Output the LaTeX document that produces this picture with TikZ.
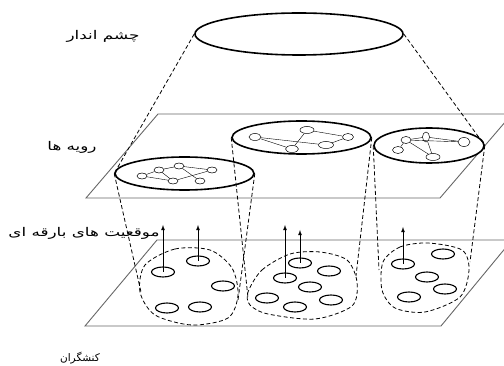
\documentclass[tikz,border=0pt]{standalone}
\usepackage{fontspec}
\newfontfamily\farsi[Script=Arabic, FakeStretch=1.4]{DejaVu Sans}
\newfontfamily\farsinarrow[Script=Arabic]{DejaVu Sans}
\TeXXeTstate=1
\usetikzlibrary{arrows,shapes.geometric}

\tikzset{
    plane/.style={draw=black!60, line width=0.9pt},
    layer/.style={draw, ellipse, fill=white, line width=1.6pt, inner sep=0pt},
    vertex/.style={draw, ellipse, fill=white, line width=0.5pt, inner sep=0pt, minimum width=10pt, minimum height=6pt},
    actor/.style={draw, ellipse, line width=1.1pt, inner sep=0pt, minimum width=23pt, minimum height=10pt},
    proj/.style={dash pattern=on 4pt off 2.5pt, line width=0.8pt},
    caption/.style={font=\farsi\fontsize{12}{14}\selectfont, inner sep=0pt}
}

\begin{document}
\begin{tikzpicture}[x=1pt, y=-1pt]
                    \useasboundingbox (0,0) rectangle (504,366);
                    \draw[plane] (86,198) -- (158,114) -- (512,114) -- (440,198) -- cycle;
                    \draw[plane] (85,326) -- (157,240) -- (512,240) -- (441,326) -- cycle;
                    \node[layer, minimum width=208pt, minimum height=42pt] (eye) at (299,34) {};
                    \node[layer, minimum width=139pt, minimum height=33pt] (p1) at (184.5,173.5) {};
                    \node[layer, minimum width=139pt, minimum height=33pt] (p2) at (301.5,137.5) {};
                    \node[layer, minimum width=110pt, minimum height=35pt] (p3) at (429,145.5) {};
                    \foreach \n/\p in {a/{(142,176)}, b/{(159,170)}, c/{(179,166)}, d/{(212,170)}, e/{(173,181)}, f/{(200,181)}}
                    \node[vertex] (g1\n) at \p {};
                    \foreach \u/\v in {a/b, a/e, b/c, c/d, b/e, c/f, e/d}
                    \draw[thin] (g1\u) -- (g1\v);
                    \foreach \n/\p/\w in {a/{(255,137)}/12, b/{(307,130)}/14, c/{(348,137)}/11, d/{(292,149)}/13, e/{(326,145)}/15}
                    \node[vertex, minimum width=\w pt, minimum height=7pt] (g2\n) at \p {};
                    \foreach \u/\v in {a/d, a/e, b/d, b/c, e/c}
                    \draw[thin] (g2\u) -- (g2\v);
                    \foreach \n/\p/\w/\h in {a/{(406,140)}/10/7, b/{(426,137)}/7/10, c/{(464,142)}/12/9, d/{(398,150)}/11/7, e/{(433,157)}/14/7}
                    \node[vertex, minimum width=\w pt, minimum height=\h pt] (g3\n) at \p {};
                    \foreach \u/\v in {a/b, b/c, a/c, a/d, a/e, b/e}
                    \draw[thin] (g3\u) -- (g3\v);
                    \draw[proj] (eye.west) -- (p1.west);
                    \draw[proj] (eye.east) -- (p3.east);
                    \draw[proj] plot[smooth cycle] coordinates {(145,265) (175,249) (210,250) (232,268) (238,295) (228,318) (192,325) (155,315) (140,292)};
                    \draw[proj] plot[smooth cycle] coordinates {(248,292) (262,270) (290,254) (320,252) (347,260) (357,282) (352,306) (315,319) (268,314) (250,305)};
                    \draw[proj] plot[smooth cycle] coordinates {(383,262) (400,247) (428,243) (462,250) (469,270) (460,297) (425,312) (395,308) (382,290)};
                    \coordinate (b1w) at (141,292);
                    \coordinate (b1e) at (238,300);
                    \coordinate (b2w) at (248,298);
                    \coordinate (b2e) at (356,276);
                    \coordinate (b3w) at (379,270);
                    \coordinate (b3e) at (470,262);
                    \draw[proj] (p1.west) -- (b1w);
                    \draw[proj] (p1.east) -- (b1e);
                    \draw[proj] (p2.west) -- (b2w);
                    \draw[proj] (p2.east) -- (b2e);
                    \draw[proj] (p3.west) -- (b3w);
                    \draw[proj] (p3.east) -- (b3e);
                    \foreach \p [count=\i] in {(163,272), (198,261), (223,286), (167,308), (200,307),
                        (300,263), (329,271), (285,278), (310,287), (267,298), (295,307), (331,300),
                        (403,264), (443,254), (427,277), (445,289), (409,297)}
                    \node[actor] (s\i) at \p {};
                    \coordinate (t1) at (163,225);
                    \coordinate (t2) at (198,225);
                    \coordinate (t6) at (300,230);
                    \coordinate (t8) at (285,225);
                    \coordinate (t13) at (403,227);
                    \foreach \i in {1, 2, 6, 8, 13}
                    \draw[-latex, line width=0.8pt] (s\i.center) -- (t\i);
                    \node[caption] (vision) at (103,36) {\beginR چشم اندار\endR};
                    \node[caption] (routines) at (72,147) {\beginR رویه ها\endR};
                    \node[caption] (niches) at (84,233) {\beginR موقعیت های بارقه ای\endR};
                    \node[caption, font=\farsinarrow\fontsize{10.5}{12}\selectfont] (actors) at (80,358) {\beginR کنشگران\endR};
                \end{tikzpicture}
\end{document}
